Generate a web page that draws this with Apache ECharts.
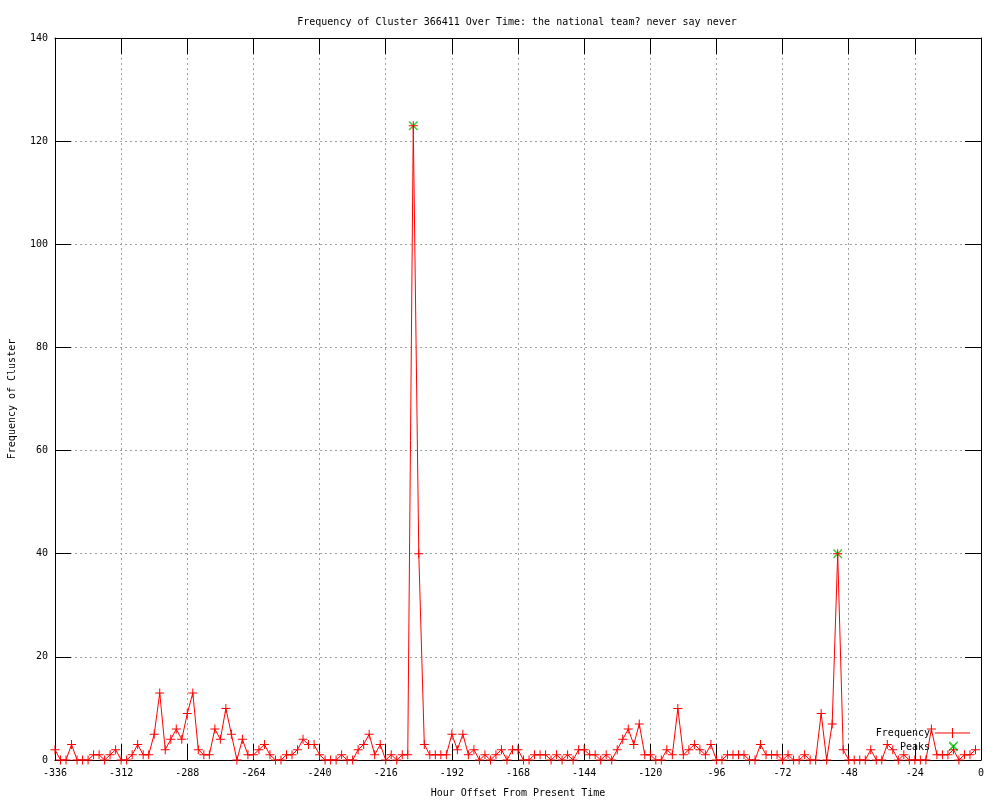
<!DOCTYPE html>
<html>
<head>
<meta charset="utf-8">
<script src="https://cdn.jsdelivr.net/npm/echarts@6/dist/echarts.min.js"></script>
<style>html,body{margin:0;padding:0;background:#fff}#c{width:1000px;height:800px}</style>
</head>
<body>
<div id="c"></div>
<script>
var hours = [-336,-334,-332,-330,-328,-326,-324,-322,-320,-318,-316,-314,-312,-310,-308,-306,-304,-302,-300,-298,
-296,-294,-292,-290,-288,-286,-284,-282,-280,-278,-276,-274,-272,-270,-268,-266,-264,-262,-260,-258,
-256,-254,-252,-250,-248,-246,-244,-242,-240,-238,-236,-234,-232,-230,-228,-226,-224,-222,-220,-218,
-216,-214,-212,-210,-208,-206,-204,-202,-200,-198,-196,-194,-192,-190,-188,-186,-184,-182,-180,-178,
-176,-174,-172,-170,-168,-166,-164,-162,-160,-158,-156,-154,-152,-150,-148,-146,-144,-142,-140,-138,
-136,-134,-132,-130,-128,-126,-124,-122,-120,-118,-116,-114,-112,-110,-108,-106,-104,-102,-100,-98,
-96,-94,-92,-90,-88,-86,-84,-82,-80,-78,-76,-74,-72,-70,-68,-66,-64,-62,-60,-58,
-56,-54,-52,-50,-48,-46,-44,-42,-40,-38,-36,-34,-32,-30,-28,-26,-24,-22,-20,-18,
-16,-14,-12,-10,-8,-6,-4,-2];
var frequency = [2,0,0,3,0,0,0,1,1,0,1,2,0,0,1,3,1,1,5,13,
2,4,6,4,9,13,2,1,1,6,4,10,5,0,4,1,1,2,3,1,
0,0,1,1,2,4,3,3,1,0,0,0,1,0,0,2,3,5,1,3,
0,1,0,1,1,123,40,3,1,1,1,1,5,2,5,1,2,0,1,0,
1,2,0,2,2,0,0,1,1,1,0,1,0,1,0,2,2,1,1,0,
1,0,2,4,6,3,7,1,1,0,0,2,1,10,1,2,3,2,1,3,
0,0,1,1,1,1,0,0,3,1,1,1,0,1,0,0,1,0,0,9,
0,7,40,2,0,0,0,0,2,0,0,3,2,0,1,0,0,0,0,6,
1,1,1,2,0,1,1,2];
var peakHours = [-206,-52,-10];
var peakValues = [123,40,2.7];
var xTicks = [-336,-312,-288,-264,-240,-216,-192,-168,-144,-120,-96,-72,-48,-24,0];
var yTicks = [0,20,40,60,80,100,120,140];

var FONT = 'DejaVu Sans Mono';
var plusPath = 'path://M0,4h9v1h-9z M4,0h1v9h-1z';
var xPath = 'path://M0,0L1,0L9,8L9,9L8,9L0,1Z M8,0L9,0L9,1L1,9L0,9L0,8Z';
var legendLinePath = 'path://M0,4.5h35v1h-35z M17,0h1v10h-1z';
var legendXPath = 'path://M0,4L0.01,4L0.01,4.01Z M35,4L34.99,4L34.99,4.01Z M13.5,0L14.5,0L22.5,8L21.5,8Z M21.5,0L22.5,0L14.5,8L13.5,8Z';

var freqData = hours.map(function(h,i){return [h, frequency[i]];});
var peakData = peakHours.map(function(h,i){return [h, peakValues[i]];});

var chart = echarts.init(document.getElementById('c'), null, {renderer:'canvas'});
var gridLine = {show:true, lineStyle:{color:'#a0a0a0', type:[2,3], width:1}};
var tickStyle = {show:true, inside:true, length:16, lineStyle:{color:'#000', width:1}};
var axisLbl = {color:'#000', fontFamily:FONT, fontSize:10};
chart.setOption({
  animation:false,
  backgroundColor:'#fff',
  title:{text:'Frequency of Cluster 366411 Over Time: the national team? never say never',
    left:512, textAlign:'center', top:12,
    textStyle:{fontFamily:FONT, fontSize:10, fontWeight:'normal', color:'#000'}},
  grid:{left:55, right:19, top:38, bottom:40, containLabel:false, outerBoundsMode:'none'},
  legend:[
    {data:[{name:'Frequency', icon:legendLinePath}], orient:'vertical', right:30, top:728, padding:0,
     itemWidth:35, itemHeight:10, align:'right', selectedMode:false,
     textStyle:{fontFamily:FONT, fontSize:10, color:'#000'}},
    {data:[{name:'Peaks', icon:legendXPath}], orient:'vertical', right:30, top:742, padding:0,
     itemWidth:35, itemHeight:8, align:'right', selectedMode:false,
     textStyle:{fontFamily:FONT, fontSize:10, color:'#000'}}
  ],
  xAxis:[
    {type:'value', min:xTicks[0], max:xTicks[xTicks.length-1], interval:24, position:'bottom',
     axisLine:{show:true, onZero:false, lineStyle:{color:'#000', width:1}},
     axisTick:tickStyle, splitLine:gridLine,
     axisLabel:Object.assign({margin:8}, axisLbl),
     name:'Hour Offset From Present Time', nameLocation:'middle', nameGap:28,
     nameTextStyle:{fontFamily:FONT, fontSize:10, color:'#000'}},
    {type:'value', min:xTicks[0], max:xTicks[xTicks.length-1], interval:24, position:'top',
     axisLine:{show:true, onZero:false, lineStyle:{color:'#000', width:1}},
     axisTick:tickStyle, splitLine:{show:false}, axisLabel:{show:false}}
  ],
  yAxis:[
    {type:'value', min:yTicks[0], max:yTicks[yTicks.length-1], interval:20, position:'left',
     axisLine:{show:true, onZero:false, lineStyle:{color:'#000', width:1}},
     axisTick:tickStyle, splitLine:gridLine,
     axisLabel:Object.assign({margin:7}, axisLbl),
     name:'Frequency of Cluster', nameLocation:'middle', nameGap:38, nameRotate:90,
     nameTextStyle:{fontFamily:FONT, fontSize:10, color:'#000'}},
    {type:'value', min:yTicks[0], max:yTicks[yTicks.length-1], interval:20, position:'right',
     axisLine:{show:true, onZero:false, lineStyle:{color:'#000', width:1}},
     axisTick:tickStyle, splitLine:{show:false}, axisLabel:{show:false}}
  ],
  series:[
    {name:'Frequency', type:'line', data:freqData, xAxisIndex:0, yAxisIndex:0,
     color:'#ff0000', lineStyle:{color:'#ff0000', width:1},
     symbol:plusPath, symbolSize:9, showSymbol:true, showAllSymbol:true,
     itemStyle:{color:'#ff0000'}, z:3, emphasis:{disabled:true}},
    {name:'Peaks', type:'scatter', data:peakData, xAxisIndex:0, yAxisIndex:0,
     color:'#00c000', symbol:xPath, symbolSize:9,
     itemStyle:{color:'#00c000'}, z:2, emphasis:{disabled:true}}
  ]
});
</script>
</body>
</html>
